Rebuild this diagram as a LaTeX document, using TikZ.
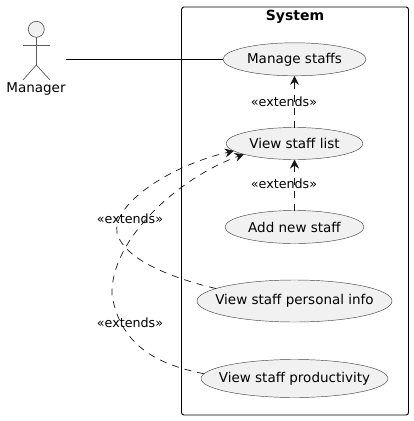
\documentclass[tikz,border=0pt]{standalone}
\usepackage{fontspec}
\setmainfont{DejaVu Sans}
\usetikzlibrary{shapes.geometric,arrows.meta}
\definecolor{ufill}{HTML}{F1F1F1}
\definecolor{uline}{HTML}{181818}
\tikzset{
  usecase/.style={ellipse,draw=uline!80,line width=0.45pt,fill=ufill,inner sep=0pt,outer sep=0pt,label={[font=\fontsize{13.5}{16}\selectfont,text=black,inner sep=0pt]center:#1}},
  stereo/.style={font=\fontsize{12.7}{14}\selectfont,text=black,inner sep=0pt},
  actorline/.style={draw=uline!70,line width=0.7pt},
  ext/.style={draw=uline,line width=0.7pt,dash pattern=on 7pt off 6pt,-{Stealth[length=9pt,width=9pt,inset=3pt]}},
}
\begin{document}
\begin{tikzpicture}[x=1pt,y=-1pt]
\useasboundingbox (0,0) rectangle (413,421);
\node[draw=black,line width=0.9pt,rounded corners=2.5pt,minimum width=227pt,minimum height=408pt,inner sep=0pt,outer sep=0pt] (sys) at (295,211) {};
\node[font=\fontsize{14}{16}\selectfont\bfseries,inner sep=0pt] (systitle) at (295,17) {System};
% actor
\coordinate (hip) at (36.3,65);
\coordinate (shl) at (23,45);
\coordinate (shr) at (50,45);
\coordinate (fl) at (23,80);
\coordinate (fr) at (50,80);
\node[circle,draw=uline!70,line width=0.7pt,fill=ufill,minimum size=16pt,inner sep=0pt,outer sep=0pt] (head) at (36.3,29.3) {};
\draw[actorline] (head.south) -- (hip);
\draw[actorline] (shl) -- (shr);
\draw[actorline] (fl) -- (hip) -- (fr);
\node[font=\fontsize{13.5}{16}\selectfont,inner sep=0pt] (mgr) at (36,89) {Manager};
\coordinate (mgrend) at (66,59.3);
% use cases
\node[usecase={Manage staffs},minimum width=143pt,minimum height=33pt] (manage) at (294.5,59.3) {};
\node[usecase={View staff list},minimum width=137pt,minimum height=32pt] (list) at (294.5,143.5) {};
\node[usecase={Add new staff},minimum width=139pt,minimum height=33pt] (add) at (294.5,227) {};
\node[usecase={View staff personal info},minimum width=195pt,minimum height=42pt] (info) at (294.5,301) {};
\node[usecase={View staff productivity},minimum width=187pt,minimum height=38pt] (prod) at (294.5,378.5) {};
% connectors
\draw[black,line width=0.8pt] (mgrend) -- (manage.west);
\draw[ext] (list.north) -- (manage.south);
\draw[ext] (add.north) -- (list.south);
\draw[ext] (info.171) .. controls (180,280) and (125,262) .. (117,233)
  .. controls (112,205) and (168,166) .. (list.187);
\draw[ext] (prod.177) .. controls (165,366) and (121,350) .. (112,295)
  .. controls (110,240) and (178,178) .. (list.192);
% labels
\node[stereo] (l1) at (284,102) {«extends»};
\node[stereo] (l2) at (284,184) {«extends»};
\node[stereo] (l3) at (130,219) {«extends»};
\node[stereo] (l4) at (130,323) {«extends»};
\end{tikzpicture}
\end{document}
